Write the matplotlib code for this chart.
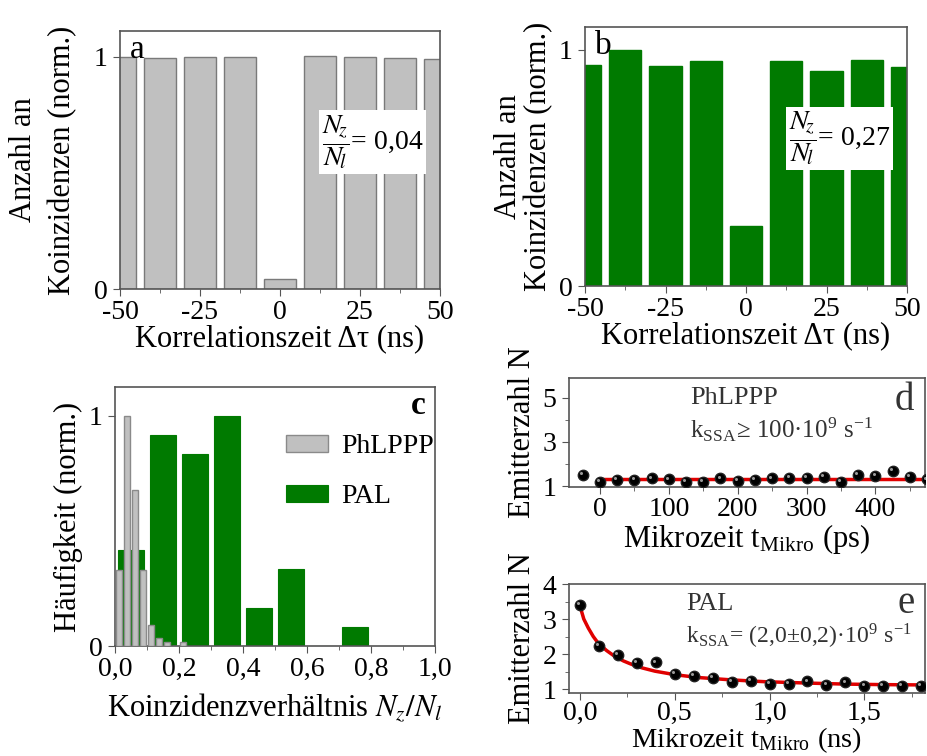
import numpy as np
import matplotlib
matplotlib.use("Agg")
import matplotlib.pyplot as plt
from matplotlib.ticker import MultipleLocator, FixedLocator
import matplotlib.transforms as mtrans

plt.rcParams['font.family'] = ['Liberation Serif', 'DejaVu Serif']
plt.rcParams['mathtext.fontset'] = 'stix'
plt.rcParams['font.size'] = 20

# --- data ---
# a / b: coincidence histograms
tau = [-50, -37.5, -25, -12.5, 0, 12.5, 25, 37.5, 50]
coinc_a = [1.0, 0.996, 1.0, 1.0, 0.043, 1.005, 1.0, 0.996, 0.99]
coinc_b = [0.934, 1.0, 0.932, 0.955, 0.254, 0.952, 0.91, 0.958, 0.929]
ratio_a = "0,04"
ratio_b = "0,27"

# c: distribution of N_z/N_l
pal_bins = [0.05, 0.15, 0.25, 0.35, 0.45, 0.55, 0.65, 0.75]
pal_freq = [0.417, 0.917, 0.833, 1.0, 0.167, 0.333, 0.0, 0.083]
phl_bins = [0.0125, 0.0375, 0.0625, 0.0875, 0.1125, 0.1375, 0.1625, 0.1875, 0.2125]
phl_freq = [0.33, 1.0, 0.68, 0.33, 0.09, 0.035, 0.017, 0.0, 0.017]

# d: PhLPPP emitter number vs microtime (ps)
t_d = [-25, 0, 25, 50, 75, 100, 125, 150, 175, 200, 225, 250, 275, 300,
       325, 350, 375, 400, 425, 450, 475]
n_d = [1.5, 1.2, 1.27, 1.27, 1.35, 1.3, 1.2, 1.2, 1.35, 1.23, 1.27, 1.35,
       1.38, 1.38, 1.42, 1.2, 1.5, 1.48, 1.68, 1.42, 1.3]
fit_d_t = [0, 480]
fit_d_n = [1.3, 1.3]

# e: PAL emitter number vs microtime (ns)
t_e = [0.0, 0.1, 0.2, 0.3, 0.4, 0.5, 0.6, 0.7, 0.8, 0.9, 1.0, 1.1, 1.2,
       1.3, 1.4, 1.5, 1.6, 1.7, 1.8]
n_e = [3.41, 2.24, 1.98, 1.74, 1.76, 1.43, 1.38, 1.31, 1.2, 1.24, 1.15,
       1.14, 1.22, 1.12, 1.19, 1.1, 1.1, 1.08, 1.09]
fit_e_t = [0.0, 0.02, 0.044, 0.07, 0.096, 0.14, 0.184, 0.23, 0.27, 0.33,
           0.395, 0.5, 0.62, 0.8, 0.97, 1.2, 1.4, 1.6, 1.85]
fit_e_n = [3.37, 3.0, 2.74, 2.5, 2.31, 2.1, 1.93, 1.8, 1.71, 1.6,
           1.51, 1.41, 1.33, 1.26, 1.21, 1.17, 1.14, 1.125, 1.115]

gray = '#c0c0c0'
green = '#007a00'
spine_col = '#555555'
txt_col = '#333333'

fig = plt.figure(figsize=(9.27, 7.56), dpi=100)
W, H = 927.0, 756.0


def add_ax(l, r, t, b):
    return fig.add_axes([l / W, 1 - b / H, (r - l) / W, (b - t) / H])


def style(ax, xpad=3):
    for s in ax.spines.values():
        s.set_color(spine_col)
        s.set_linewidth(1.2)
    ax.tick_params(which='both', direction='out', color=spine_col, labelsize=20)
    ax.tick_params(axis='x', pad=xpad)
    ax.tick_params(axis='y', pad=4)
    ax.tick_params(which='major', length=5)
    ax.tick_params(which='minor', length=3)


def comma(fmt):
    return lambda v, p: (fmt % v).replace('.', ',')


# ---- a ----
ax_a = add_ax(120, 440, 31, 289)
ax_a.bar(tau, coinc_a, width=10, color=gray, edgecolor='#7a7a7a', linewidth=1)
ax_a.set_xlim(-50, 50)
ax_a.set_ylim(0, 1.112)

# ---- b ----
ax_b = add_ax(585, 907, 27, 286)
ax_b.bar(tau, coinc_b, width=10, color=green, edgecolor=green, linewidth=1)
ax_b.set_xlim(-50, 50)
ax_b.set_ylim(0, 1.097)

for ax, lab, ratio, pad, ls in [(ax_a, 'a', ratio_a, 12, 1.45), (ax_b, 'b', ratio_b, 4, 1.05)]:
    style(ax)
    ax.xaxis.set_major_locator(FixedLocator([-50, -25, 0, 25, 50]))
    ax.xaxis.set_minor_locator(FixedLocator([-37.5, -12.5, 12.5, 37.5]))
    ax.set_xticklabels(['-50', '-25', '0', '25', '50'])
    ax.set_yticks([0, 1])
    ax.set_xlabel('Korrelationszeit Δτ (ns)', fontsize=22, labelpad=-1)
    ax.set_ylabel('Anzahl an\nKoinzidenzen (norm.)', fontsize=22, labelpad=pad,
                  linespacing=ls)
    ax.text(0.03, 0.985, lab, transform=ax.transAxes, fontsize=24,
            ha='left', va='top')
    ax.text(0.79, 0.57, r'$\dfrac{N_{\!z}}{N_{\!l}}$= ' + ratio, transform=ax.transAxes,
            fontsize=20, ha='center', va='center',
            bbox=dict(facecolor='white', edgecolor='none', pad=2))

# ---- c ----
ax_c = add_ax(115, 435, 387, 646)
ax_c.bar(pal_bins, pal_freq, width=0.08, color=green, edgecolor=green,
         linewidth=0.8, label='PAL', zorder=2)
ax_c.bar(phl_bins, phl_freq, width=0.021, color=gray, edgecolor='#8a8a8a',
         linewidth=1, label='PhLPPP', zorder=3)
ax_c.set_xlim(0, 1.0)
ax_c.set_ylim(0, 1.126)
style(ax_c)
ax_c.xaxis.set_major_locator(MultipleLocator(0.2))
ax_c.xaxis.set_minor_locator(MultipleLocator(0.1))
ax_c.xaxis.set_major_formatter(comma('%.1f'))
ax_c.set_yticks([0, 1])
ax_c.set_xlabel(r'Koinzidenzverhältnis $N_z/N_l$', fontsize=22, labelpad=7)
ax_c.set_ylabel('Häufigkeit (norm.)', fontsize=22, labelpad=4)
h, l = ax_c.get_legend_handles_labels()
ax_c.legend(h[::-1], l[::-1], loc='upper left', bbox_to_anchor=(0.5, 0.86),
            frameon=False, fontsize=20, handlelength=1.5, handleheight=0.6,
            labelspacing=0.9, handletextpad=0.5, borderaxespad=0)
ax_c.text(0.97, 0.99, 'c', transform=ax_c.transAxes, fontsize=24,
          fontweight='bold', ha='right', va='top')


# ---- d / e ----
def spheres(ax, x, y):
    ax.plot(x, y, 'o', color='black', markersize=7.5, markeredgecolor='#222222',
            zorder=3)
    off = mtrans.offset_copy(ax.transData, fig=fig, x=-1.3, y=1.3, units='points')
    ax.plot(x, y, 'o', color='#9a9a9a', markersize=2.2, markeredgewidth=0,
            transform=off, zorder=4)


ax_d = add_ax(569, 925, 378, 487)
ax_d.plot(fit_d_t, fit_d_n, color='#e00000', linewidth=2.5, zorder=2)
spheres(ax_d, t_d, n_d)
ax_d.set_xlim(-45, 472)
ax_d.set_ylim(0.96, 5.9)
style(ax_d, xpad=2)
ax_d.xaxis.set_major_locator(MultipleLocator(100))
ax_d.xaxis.set_minor_locator(MultipleLocator(50))
ax_d.set_yticks([1, 3, 5])
ax_d.yaxis.set_minor_locator(FixedLocator([2, 4]))
ax_d.set_xlabel(r'Mikrozeit t$_{\mathregular{Mikro}}$ (ps)', fontsize=22, labelpad=0)
ax_d.set_ylabel('Emitterzahl N', fontsize=22, labelpad=4)
ax_d.text(0.34, 0.82, 'PhLPPP', transform=ax_d.transAxes, fontsize=19,
          color=txt_col, ha='left', va='center')
ax_d.text(0.34, 0.53, r'k$_{\mathregular{SSA}}$≥ 100·10$^{\mathregular{9}}$ s$^{\mathregular{-1}}$',
          transform=ax_d.transAxes, fontsize=18, color=txt_col, ha='left', va='center')
ax_d.text(0.97, 0.79, 'd', transform=ax_d.transAxes, fontsize=28,
          color=txt_col, ha='right', va='center')

ax_e = add_ax(569, 925, 584, 693)
ax_e.plot(fit_e_t, fit_e_n, color='#e00000', linewidth=2.5, zorder=2)
spheres(ax_e, t_e, n_e)
ax_e.set_xlim(-0.058, 1.82)
ax_e.set_ylim(0.886, 4.0)
style(ax_e, xpad=1)
ax_e.xaxis.set_major_locator(MultipleLocator(0.5))
ax_e.xaxis.set_minor_locator(MultipleLocator(0.25))
ax_e.xaxis.set_major_formatter(comma('%.1f'))
ax_e.set_yticks([1, 2, 3, 4])
ax_e.yaxis.set_minor_locator(MultipleLocator(0.5))
ax_e.set_xlabel(r'Mikrozeit t$_{\mathregular{Mikro}}$ (ns)', fontsize=20.5, labelpad=-1)
ax_e.set_ylabel('Emitterzahl N', fontsize=22, labelpad=4)
ax_e.text(0.33, 0.82, 'PAL', transform=ax_e.transAxes, fontsize=19,
          color=txt_col, ha='left', va='center')
ax_e.text(0.33, 0.52, r'k$_{\mathregular{SSA}}$= (2,0±0,2)·10$^{\mathregular{9}}$ s$^{\mathregular{-1}}$',
          transform=ax_e.transAxes, fontsize=17, color=txt_col, ha='left', va='center')
ax_e.text(0.97, 0.82, 'e', transform=ax_e.transAxes, fontsize=28,
          color=txt_col, ha='right', va='center')

fig.savefig('out.png', dpi=100)
